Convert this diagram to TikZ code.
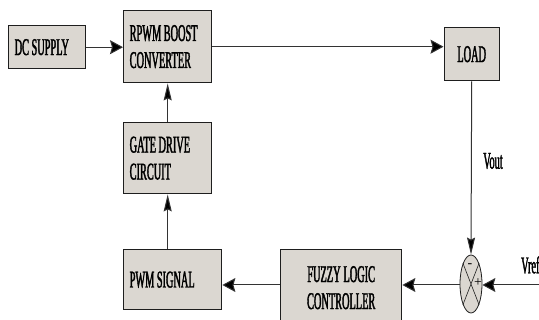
\documentclass[tikz,border=0pt]{standalone}
\usepackage{fontspec}
\setmainfont{Liberation Serif}[FakeStretch=0.43, FakeBold=1.5]
\newfontfamily\signfont{Liberation Serif}
\newcommand\tightsp{\spaceskip=2.5pt plus 1pt\relax\xspaceskip=2.5pt plus 1pt\relax}
\usetikzlibrary{arrows.meta,shapes.geometric}
\definecolor{boxfill}{HTML}{DBD7D1}
\definecolor{edge}{HTML}{1E1E1E}
\definecolor{wire}{HTML}{333333}

\begin{document}
\begin{tikzpicture}[x=1pt, y=-1pt,
  blk/.style={rectangle, draw=edge, line width=1.4pt, fill=boxfill,
    align=left, inner xsep=6pt, inner ysep=0pt, anchor=north west,
    font=\fontsize{24}{27}\selectfont, execute at begin node=\tightsp},
  blkc/.style={blk, align=center},
  sumj/.style={ellipse, draw=edge, line width=0.8pt, fill=boxfill,
    minimum width=22pt, minimum height=58pt, inner sep=0pt},
  flow/.style={-{Stealth[length=13pt, width=14pt, inset=2pt, fill=black]}, line width=1pt, wire},
  upflow/.style={-{Stealth[length=17pt, width=8pt, inset=2pt, fill=black]}, line width=1pt, wire},
  sig/.style={font=\fontsize{24}{24}\selectfont, inner sep=0pt},
  sgn/.style={font=\signfont\fontsize{14}{14}\selectfont, inner sep=0pt}
]
\useasboundingbox (0,0) rectangle (539,320);

%─── TOP ROW ─────────────────────────────────────────────────────────────────
\node[blk, text width=65pt, minimum height=43pt] (dc)   at (8,25)   {DC SUPPLY};
\node[blk, text width=76pt, minimum height=72pt] (conv) at (123,10) {RPWM BOOST\\CONVERTER};
\node[blkc, text width=43pt, minimum height=53pt] (load) at (443.5,27) {LOAD};

%─── LEFT COLUMN ─────────────────────────────────────────────────────────────
\node[blk, text width=76pt, minimum height=71pt] (gate) at (123,122) {GATE DRIVE\\CIRCUIT};
\node[blk, text width=86pt, minimum height=60pt] (pwm)  at (123,249) {PWM SIGNAL\\[6pt]};

%─── BOTTOM ROW ──────────────────────────────────────────────────────────────
\node[blkc, text width=109pt, minimum height=76pt] (fuzzy) at (280,249) {FUZZY LOGIC\\CONTROLLER};
\node[sumj] (sum) at (471,284) {};
\draw[edge, line width=0.6pt] (sum.north west) -- (sum.south east)
  (sum.north east) -- (sum.south west);
\node[sgn] (minus) at (470,266) {-};
\node[sgn] (plus)  at (478,283) {+};

%─── SIGNAL LABELS ───────────────────────────────────────────────────────────
\node[sig] (vout) at (493,161) {Vout};
\node[sig, anchor=west] (vreflbl) at (521,265) {Vref};
\coordinate (vref) at (539,285);

%─── CONNECTIONS ─────────────────────────────────────────────────────────────

% supply into converter
\draw[flow] (dc.east) -- (dc.east -| conv.west);

% converter to load
\draw[flow] (conv.east) -- (conv.east -| load.west);

% load output fed back to summing point
\draw[upflow] (load.south) -- (sum.north);

% reference into summing point
\draw[flow] (vref) -- (vref -| sum.east);

% error to fuzzy controller
\draw[flow] (sum.west |- vref) -- (vref -| fuzzy.east);

% fuzzy controller to PWM
\draw[flow] (fuzzy.west |- vref) -- (vref -| pwm.east);

% PWM up to gate drive
\draw[upflow] (gate.south |- pwm.north) -- (gate.south);

% gate drive up to converter
\draw[upflow] (gate.north) -- (conv.south);

\end{tikzpicture}
\end{document}
